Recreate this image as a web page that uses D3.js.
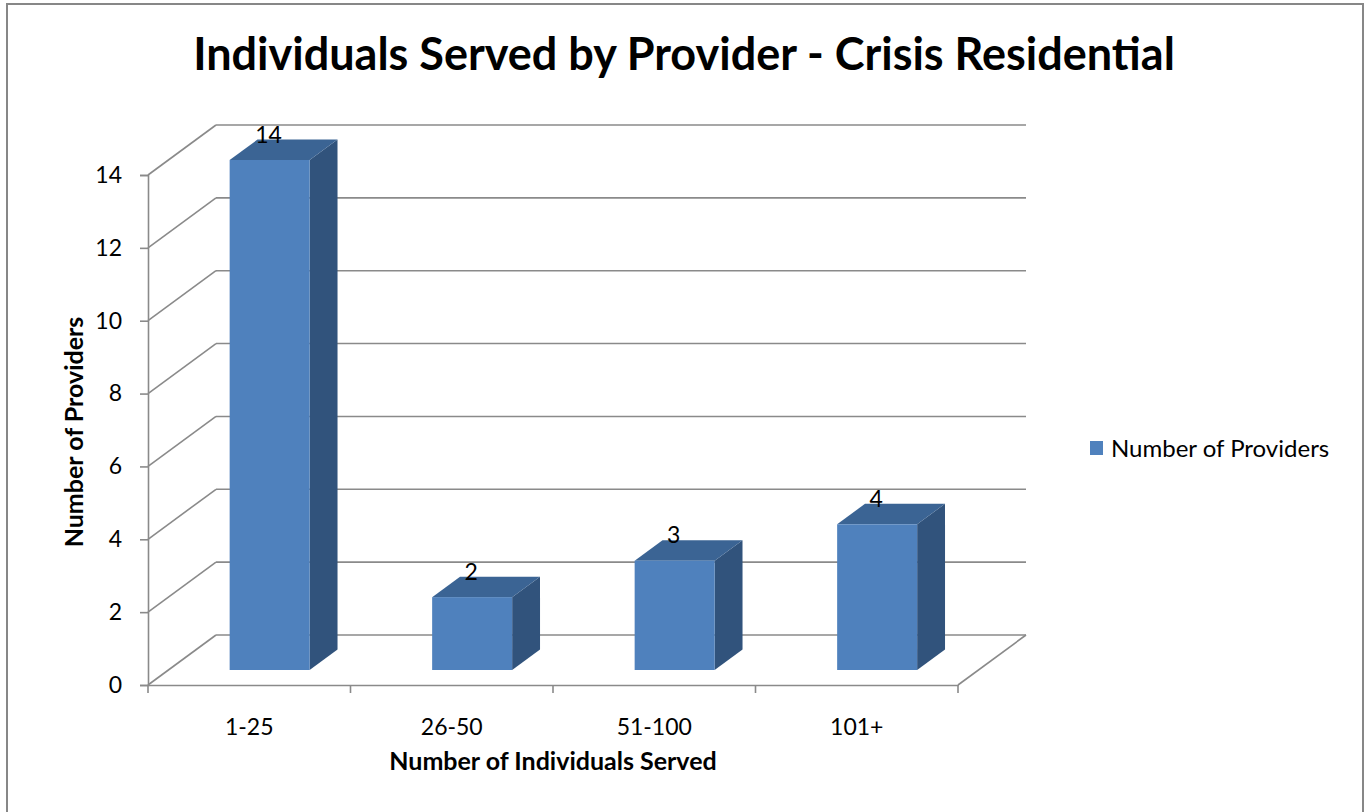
<!DOCTYPE html>
<html>
<head>
<meta charset="utf-8">
<script src="https://cdn.jsdelivr.net/npm/d3@7"></script>
<style>
  body { margin: 0; background: #fff; }
  svg { display: block; }
  text { font-family: Lato, "Open Sans", sans-serif; fill: #000; }
</style>
</head>
<body>
<svg id="chart" width="1367" height="812"></svg>
<script>
const categories = ["1-25", "26-50", "51-100", "101+"];
const providers = [14, 2, 3, 4];
const yTicks = [0, 2, 4, 6, 8, 10, 12, 14];
const titleText = "Individuals Served by Provider - Crisis Residential";
const yTitle = "Number of Providers";
const xTitle = "Number of Individuals Served";
const seriesName = "Number of Providers";

const svg = d3.select("#chart");

// chart frame
svg.append("rect").attr("x", 7).attr("y", 4).attr("width", 1356).attr("height", 820)
  .attr("fill", "#fff").attr("stroke", "#878787").attr("stroke-width", 2);

const x = d3.scaleBand().domain(categories).range([148, 958]).padding(0);
const y = d3.scaleLinear().domain([0, 14]).range([685, 175]);
const DX = 68, DY = -50;           // full depth offset
const off = d => [DX * d, DY * d];  // depth fraction 0 (front) .. 1 (back)

const grid = svg.append("g").attr("stroke", "#8a8a8a").attr("stroke-width", 1.6).attr("fill", "none");
const [bx, by] = off(1);
yTicks.forEach(t => {
  grid.append("line").attr("x1", 148 + bx).attr("y1", y(t) + by).attr("x2", 958 + bx).attr("y2", y(t) + by);
  grid.append("line").attr("x1", 148).attr("y1", y(t)).attr("x2", 148 + bx).attr("y2", y(t) + by);
});
grid.append("line").attr("x1", 958).attr("y1", y(0)).attr("x2", 958 + bx).attr("y2", y(0) + by);

// y axis
const yAxis = d3.axisLeft(y).tickValues(yTicks).tickSize(8).tickPadding(18);
const gy = svg.append("g").attr("transform", "translate(148,0)").call(yAxis);
gy.select(".domain").attr("stroke", "#8a8a8a").attr("stroke-width", 1.6);
gy.selectAll(".tick line").attr("stroke", "#8a8a8a").attr("stroke-width", 1.6);
gy.selectAll(".tick text").style("font-size", "23px").style("font-family", "Lato").attr("fill", "#000");

// x axis
const xAxis = d3.axisBottom(x).tickSize(0).tickPadding(34);
const gx = svg.append("g").attr("transform", `translate(0,${y(0)})`).call(xAxis);
gx.select(".domain").attr("stroke", "#8a8a8a").attr("stroke-width", 1.6);
gx.selectAll(".tick text").style("font-size", "23px").style("font-family", "Lato").attr("fill", "#000");
const bounds = categories.map(c => x(c)).concat([958]);
gx.selectAll("line.bt").data(bounds).enter().append("line").attr("class", "bt")
  .attr("x1", d => d).attr("x2", d => d).attr("y1", 0).attr("y2", 8)
  .attr("stroke", "#8a8a8a").attr("stroke-width", 1.6);

// bars
const barW = 80, d0 = 0.3, d1 = 0.71;
const bars = svg.append("g");
categories.forEach((c, i) => {
  const v = providers[i];
  const [fx, fy] = off(d0), [kx, ky] = off(d1);
  const left = x(c) + x.bandwidth() / 2 - barW / 2 + fx;
  const right = left + barW;
  const top = y(v) + fy, bot = y(0) + fy;
  const ddx = kx - fx, ddy = ky - fy;
  bars.append("path").attr("fill", "#31537c")
    .attr("d", `M${right},${top}L${right + ddx},${top + ddy}L${right + ddx},${bot + ddy}L${right},${bot}Z`);
  bars.append("path").attr("fill", "#3b6494")
    .attr("d", `M${left},${top}L${left + ddx},${top + ddy}L${right + ddx},${top + ddy}L${right},${top}Z`);
  bars.append("rect").attr("x", left).attr("y", top).attr("width", barW).attr("height", bot - top)
    .attr("fill", "#4f81bd");
  bars.append("text").attr("x", (left + right + ddx) / 2 - 15).attr("y", top + ddy + 3)
    .attr("text-anchor", "middle").style("font-size", "23px").text(v);
});

// titles
svg.append("text").attr("x", 684).attr("y", 70).attr("text-anchor", "middle")
  .style("font-size", "45px").style("font-weight", "bold").text(titleText);
svg.append("text").attr("transform", "translate(83,432) rotate(-90)").attr("text-anchor", "middle")
  .style("font-size", "25px").style("font-weight", "bold").text(yTitle);
svg.append("text").attr("x", 553).attr("y", 770).attr("text-anchor", "middle")
  .style("font-size", "25px").style("font-weight", "bold").text(xTitle);

// legend
svg.append("rect").attr("x", 1090).attr("y", 441).attr("width", 13).attr("height", 14).attr("fill", "#4f81bd");
svg.append("text").attr("x", 1111).attr("y", 457).style("font-size", "24px").text(seriesName);
</script>
</body>
</html>
